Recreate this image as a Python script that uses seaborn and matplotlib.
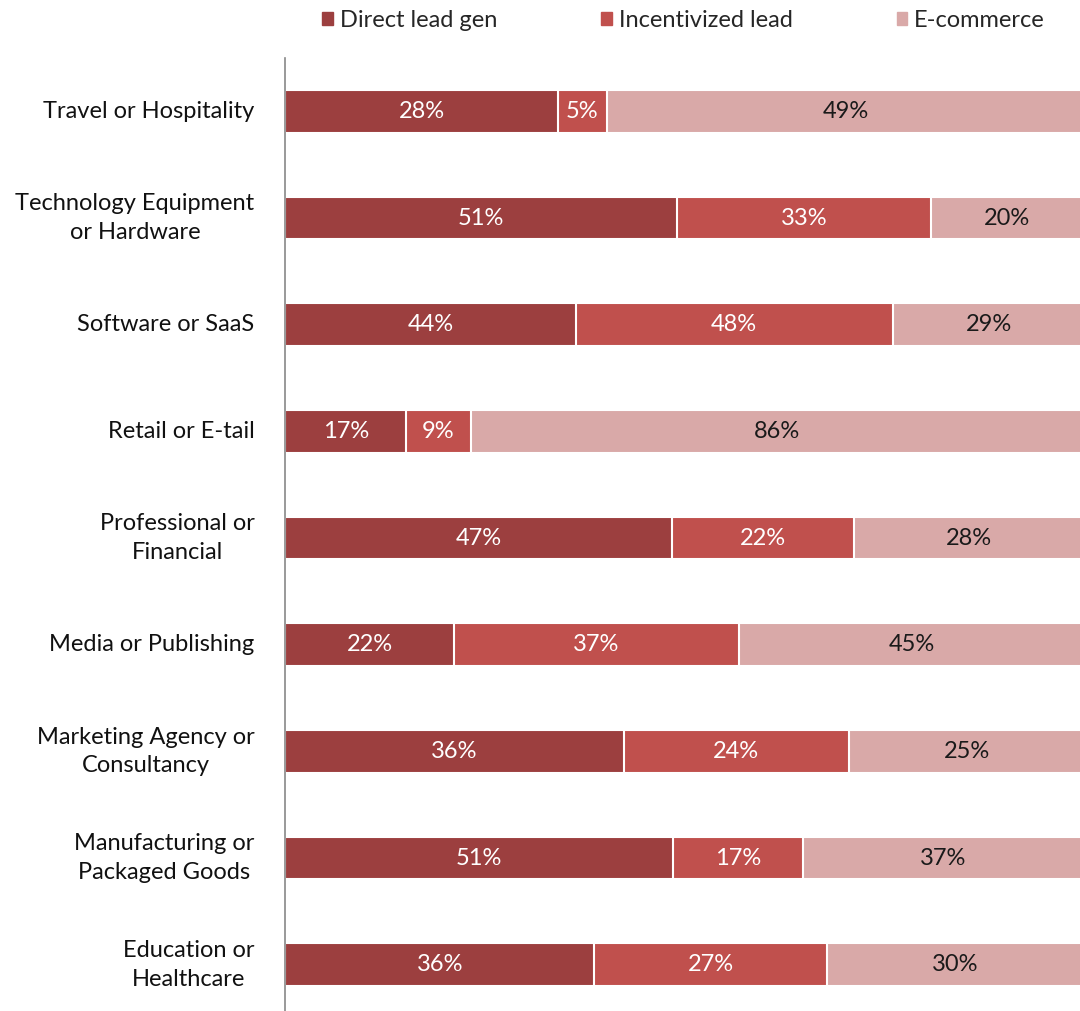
import numpy as np
import pandas as pd
import matplotlib
matplotlib.use("Agg")
import matplotlib.pyplot as plt
import seaborn as sns

categories = ["Travel or Hospitality", "Technology Equipment\nor Hardware", "Software or SaaS",
              "Retail or E-tail", "Professional or\nFinancial", "Media or Publishing",
              "Marketing Agency or\nConsultancy", "Manufacturing or\nPackaged Goods", "Education or\nHealthcare"]
direct_lead = [28, 51, 44, 17, 47, 22, 36, 51, 36]
incentivized = [5, 33, 48, 9, 22, 37, 24, 17, 27]
ecommerce = [49, 20, 29, 86, 28, 45, 25, 37, 30]
series_names = ["Direct lead gen", "Incentivized lead", "E-commerce"]
colors = ["#9C3F3F", "#C0504D", "#D9A9A8"]

sns.set_style("white")
plt.rcParams["font.family"] = ["Lato", "DejaVu Sans"]

df = pd.DataFrame({"cat": categories, "d": direct_lead, "i": incentivized, "e": ecommerce})
tot = df[["d", "i", "e"]].sum(axis=1)
df["s1"] = df["d"] / tot
df["s2"] = (df["d"] + df["i"]) / tot
df["s3"] = 1.0

fig = plt.figure(figsize=(10.8, 10.11), dpi=100)
ax = fig.add_axes([0.264, -0.007, 0.74, 0.9496])

# stacked by overlaying cumulative bars
for col, c in zip(["s3", "s2", "s1"], colors[::-1]):
    sns.barplot(data=df, x=col, y="cat", color=c, orient="h", width=0.4,
                edgecolor="white", linewidth=1.5, ax=ax, saturation=1)

for i, row in df.iterrows():
    starts = [0, row["s1"], row["s2"]]
    ends = [row["s1"], row["s2"], 1.0]
    vals = [row["d"], row["i"], row["e"]]
    for k in range(3):
        ax.text((starts[k] + ends[k]) / 2, i, f"{vals[k]}%", ha="center", va="center",
                fontsize=17, color="white" if k < 2 else "#1a1a1a")

ax.set_xlim(0, 1.0)
ax.set_ylim(8.5, -0.5)
ax.set_xlabel("")
ax.set_ylabel("")
ax.set_xticks([])
ax.tick_params(axis="y", length=0, pad=22, labelsize=17, labelcolor="#111111")
for lbl in ax.get_yticklabels():
    lbl.set_horizontalalignment("right")
    lbl.set_verticalalignment("center")
    lbl.set_multialignment("center")
    lbl.set_linespacing(1.45)
for sp in ["top", "right", "bottom"]:
    ax.spines[sp].set_visible(False)
ax.spines["left"].set_color("#888888")
ax.spines["left"].set_linewidth(1.2)

handles = [plt.Rectangle((0, 0), 1, 1, color=c) for c in colors]
fig.legend(handles, series_names, loc="center", bbox_to_anchor=(0.633, 0.98), ncol=3,
           frameon=False, fontsize=17, handlelength=0.45, handleheight=0.45,
           handletextpad=0.3, columnspacing=4.4)

plt.savefig("out.png", dpi=100)
